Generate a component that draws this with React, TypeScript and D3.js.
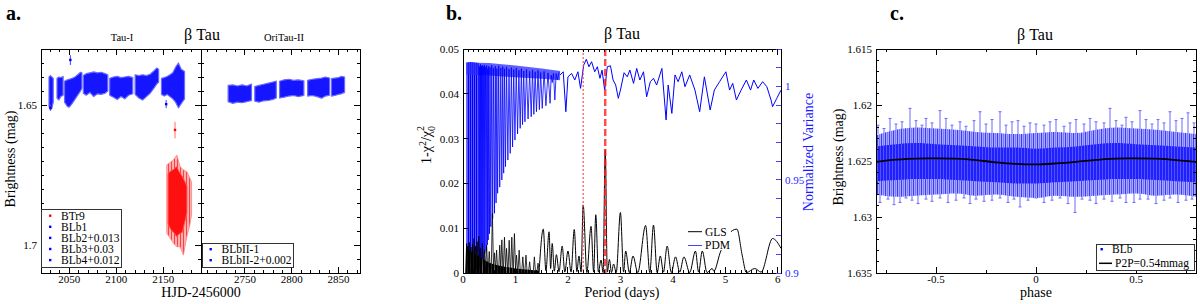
import * as d3 from "d3";

type Env = [number, number, number][];
type Pt = [number, number];

const FONT = "'Liberation Serif', 'DejaVu Serif', serif";

// ---- a. light curves: cloud envelopes [HJD-2456000, top mag, bottom mag]
const tauSeg1: Env = [[2028.5, 1.64, 1.6505], [2030, 1.6395, 1.6518], [2031.5, 1.64, 1.6512], [2033, 1.6405, 1.649]];
const tauSeg2: Env = [[2037, 1.6405, 1.6475], [2039, 1.64, 1.6482], [2041, 1.6402, 1.647], [2043.5, 1.6398, 1.6465]];
const tauSeg3: Env = [[2045, 1.6415, 1.649], [2048, 1.641, 1.6505], [2050, 1.6408, 1.6508], [2053, 1.6405, 1.6495], [2056, 1.64, 1.648], [2059, 1.6392, 1.6465], [2062, 1.6383, 1.645], [2063.5, 1.6385, 1.644]];
const tauSeg4: Env = [[2065, 1.6395, 1.6458], [2068, 1.6388, 1.6465], [2072, 1.6385, 1.6455], [2076, 1.6382, 1.647], [2080, 1.6385, 1.646], [2084, 1.6383, 1.6462], [2088, 1.6388, 1.6458], [2091, 1.6392, 1.645]];
const tauSeg5: Env = [[2093, 1.6405, 1.6465], [2097, 1.64, 1.6472], [2101, 1.6398, 1.648], [2105, 1.6402, 1.647], [2109, 1.64, 1.6478], [2113, 1.6398, 1.6465], [2117.5, 1.6402, 1.646]];
const tauSeg6: Env = [[2120, 1.6392, 1.6462], [2124, 1.6395, 1.6475], [2128, 1.6392, 1.6482], [2132, 1.6395, 1.647], [2136, 1.639, 1.6458], [2140, 1.6378, 1.644], [2143, 1.6368, 1.6425], [2145, 1.6372, 1.6418]];
const tauSeg7: Env = [[2148, 1.6405, 1.6462], [2151, 1.6402, 1.6468], [2154, 1.6398, 1.6462], [2157, 1.6392, 1.647], [2160, 1.6385, 1.6478], [2163, 1.6365, 1.649], [2166, 1.635, 1.651], [2169, 1.6372, 1.6495], [2172.5, 1.638, 1.6478]];
const oriSeg1: Env = [[2732, 1.643, 1.6488], [2737, 1.6428, 1.6494], [2742, 1.6432, 1.649], [2747, 1.6428, 1.6492], [2752, 1.6432, 1.6488], [2757, 1.6425, 1.6484]];
const oriSeg2: Env = [[2760.5, 1.6434, 1.6486], [2765, 1.643, 1.649], [2770, 1.6426, 1.6485], [2775, 1.6422, 1.6484], [2780, 1.6418, 1.648], [2783.5, 1.6415, 1.6475]];
const oriSeg3: Env = [[2787, 1.6415, 1.6475], [2792, 1.641, 1.6472], [2797, 1.6408, 1.6468], [2802, 1.6412, 1.6466], [2807, 1.641, 1.647], [2813, 1.6414, 1.6466]];
const oriSeg4: Env = [[2817, 1.6412, 1.6468], [2822, 1.6408, 1.6466], [2827, 1.6406, 1.647], [2832, 1.6404, 1.6476], [2836, 1.64, 1.6468], [2840.5, 1.6404, 1.6465]];
const oriSeg5: Env = [[2842.5, 1.6406, 1.6468], [2846, 1.6404, 1.6466], [2850, 1.6402, 1.6462], [2853, 1.6398, 1.646], [2856.5, 1.64, 1.6455]];
const redOuter: Env = [[2153.6, 1.6714, 1.6958], [2157.2, 1.6705, 1.6975], [2160.7, 1.6696, 1.6994], [2164.3, 1.6679, 1.7006], [2167.8, 1.672, 1.7006], [2171.3, 1.6732, 1.7036], [2174.9, 1.6738, 1.697], [2178, 1.676, 1.693], [2180, 1.6774, 1.6893]];
const redCore: Env = [[2155, 1.6745, 1.6925], [2158, 1.6735, 1.6945], [2161, 1.673, 1.6955], [2164, 1.672, 1.697], [2167, 1.674, 1.696], [2170, 1.6755, 1.6955], [2173, 1.6775, 1.6915], [2175, 1.679, 1.6885]];
// single error bars [day, mag, top, bottom]
const blueOutliers: [number, number, number, number][] = [[2051.2, 1.6339, 1.6322, 1.6357], [2153, 1.6497, 1.6482, 1.6511], [2030, 1.651, 1.6498, 1.652]];
const redOutliers: [number, number, number, number][] = [[2162.4, 1.6589, 1.656, 1.6619]];

const tauClouds = [tauSeg1, tauSeg2, tauSeg3, tauSeg4, tauSeg5, tauSeg6, tauSeg7];
const oriClouds = [oriSeg1, oriSeg2, oriSeg3, oriSeg4, oriSeg5];
const tauTicks = [2050, 2100, 2150];
const oriTicks = [2750, 2800, 2850];
const magTicksA = [1.65, 1.7];
const legendTau = [
  { label: "BTr9", color: "#ff0000" },
  { label: "BLb1", color: "#0000ff" },
  { label: "BLb2+0.013", color: "#0000ff" },
  { label: "BLb3+0.03", color: "#0000ff" },
  { label: "BLb4+0.012", color: "#0000ff" },
];
const legendOri = ["BLbII-1", "BLbII-2+0.002"];

// ---- b. periodograms: period (days), GLS power, PDM normalized variance
const pdmBlock: Env = [[0.065, 1.0128, 0.9], [0.15, 1.013, 0.9], [0.3, 1.0125, 0.9]];
const pdmBand: Env = [[0.065, 1.0128, 1.0062], [0.5, 1.0125, 1.0058], [1.0, 1.0112, 1.0048], [1.5, 1.0095, 1.004], [1.85, 1.0082, 1.0032]];
const pdmComb: Pt[] = [
  [0.3, 1.0115], [0.31, 0.9], [0.318, 1.0105], [0.326, 0.9005], [0.334, 1.0118], [0.343, 0.901], [0.352, 1.0108], [0.36, 0.9034],
  [0.369, 1.0112], [0.378, 0.904], [0.388, 1.0106], [0.398, 0.907], [0.407, 1.0115], [0.416, 0.9105], [0.428, 1.0104], [0.44, 0.912],
  [0.452, 1.0112], [0.464, 0.915], [0.472, 1.0095], [0.48, 0.9177], [0.49, 1.0108], [0.505, 0.921], [0.516, 1.0102], [0.53, 0.9248],
  [0.548, 1.0112], [0.565, 0.929], [0.58, 1.0098], [0.6, 0.932], [0.615, 1.0108], [0.63, 0.9375], [0.645, 1.0095], [0.66, 0.9427],
  [0.68, 1.011], [0.7, 0.946], [0.72, 1.0098], [0.74, 0.9498], [0.757, 1.0105], [0.775, 0.9535], [0.792, 1.0094], [0.81, 0.957],
  [0.83, 1.0104], [0.855, 0.9605], [0.877, 1.0092], [0.9, 0.9641], [0.922, 1.01], [0.945, 0.9675], [0.967, 1.009], [0.99, 0.9712],
  [1.015, 1.0098], [1.04, 0.9745], [1.065, 1.0086], [1.09, 0.9775], [1.112, 1.0094], [1.135, 0.9795], [1.157, 1.0082], [1.18, 0.981],
  [1.21, 1.009], [1.24, 0.9825], [1.27, 1.008], [1.3, 0.9837], [1.325, 1.0088], [1.35, 0.985], [1.375, 1.0078], [1.4, 0.9864],
  [1.43, 1.0085], [1.455, 0.9875], [1.48, 1.0074], [1.51, 0.9882], [1.545, 1.008], [1.58, 0.9896], [1.62, 1.0072], [1.66, 0.9909],
  [1.68, 1.006], [1.7, 1.002], [1.725, 1.007], [1.75, 0.9927], [1.775, 1.0068], [1.8, 1.0035], [1.83, 1.0075],
];
const pdmTail: Pt[] = [
  [1.85, 1.0061], [1.91, 1.0078], [1.96, 0.9864], [2.0, 1.0051], [2.07, 1.0069], [2.13, 1.0034], [2.19, 1.0078], [2.24, 0.9989],
  [2.3, 1.0114], [2.35, 1.0145], [2.4, 1.0105], [2.45, 1.0132], [2.51, 1.0078], [2.56, 1.0105], [2.61, 1.0043], [2.65, 1.0087],
  [2.7, 0.998], [2.75, 1.0105], [2.81, 1.011], [2.86, 1.0034], [2.91, 1.0007], [2.96, 0.9936], [3.0, 0.998], [3.07, 1.0073],
  [3.13, 1.0051], [3.18, 1.0087], [3.25, 1.0016], [3.31, 1.0096], [3.37, 1.0034], [3.44, 1.0078], [3.5, 0.9944], [3.57, 1.0025],
  [3.63, 1.0043], [3.69, 1.0007], [3.79, 1.0096], [3.87, 0.982], [3.91, 1.0007], [3.98, 0.9855], [4.04, 1.0061], [4.1, 1.0025],
  [4.17, 1.0078], [4.23, 0.9998], [4.32, 1.0061], [4.42, 0.998], [4.51, 0.9864], [4.6, 1.0051], [4.71, 0.9873], [4.79, 0.998],
  [4.89, 1.0025], [5.01, 1.0078], [5.08, 0.998], [5.14, 1.0016], [5.21, 0.9927], [5.3, 0.998], [5.4, 1.0034], [5.48, 0.998],
  [5.54, 1.0034], [5.62, 0.9989], [5.71, 1.0025], [5.79, 0.9998], [5.87, 0.9927], [5.9, 0.9891], [5.98, 0.9936], [6.06, 0.998],
];
const glsBase: Pt[] = [
  [0.06, 0.0058], [0.1, 0.0052], [0.15, 0.0048], [0.2, 0.0046], [0.25, 0.0042], [0.3, 0.0038], [0.35, 0.0033], [0.4, 0.003],
  [0.45, 0.0026], [0.5, 0.0023], [0.6, 0.0019], [0.7, 0.0016], [0.8, 0.0014], [0.9, 0.0012], [1.0, 0.001], [1.2, 0.0008], [1.45, 0.0005],
];
const glsSpikes: Pt[] = [
  [0.07, 0.0066], [0.09, 0.006], [0.12, 0.0068], [0.15, 0.0058], [0.18, 0.0064], [0.21, 0.0077], [0.24, 0.006], [0.27, 0.007],
  [0.3, 0.0082], [0.33, 0.0056], [0.37, 0.0066], [0.41, 0.005], [0.45, 0.0062], [0.5, 0.0048], [0.56, 0.0133], [0.6, 0.0045],
  [0.64, 0.0051], [0.7, 0.0062], [0.74, 0.0074], [0.79, 0.008], [0.83, 0.0055], [0.88, 0.0073], [0.93, 0.008], [0.98, 0.0088],
  [1.02, 0.004], [1.07, 0.0051], [1.14, 0.0036], [1.2, 0.004], [1.27, 0.0025], [1.36, 0.0036], [1.43, 0.0022],
];
const glsPeaks: Pt[] = [
  [1.45, 0.0003], [1.53, 0.0098], [1.58, 0.0005], [1.64, 0.0092], [1.67, 0.001], [1.7, 0.0066], [1.74, 0.0004], [1.78, 0.0041],
  [1.83, 0.0003], [1.89, 0.006], [1.94, 0.0002], [2.0, 0.0049], [2.06, 0.0002], [2.12, 0.0097], [2.17, 0.0003], [2.21, 0.0038],
  [2.25, 0.0002], [2.29, 0.0152], [2.36, 0.0001], [2.44, 0.0104], [2.49, 0.0002], [2.53, 0.013], [2.58, 0.0002], [2.63, 0.0029],
  [2.67, 0.0001], [2.71, 0.0275], [2.75, 0.0002], [2.79, 0.003], [2.83, 0.0001], [2.87, 0.002], [2.92, 0.0001], [3.0, 0.0135],
  [3.06, 0.0002], [3.1, 0.0049], [3.17, 0.0001], [3.24, 0.0038], [3.33, 0.0001], [3.48, 0.0106], [3.56, 0.0001], [3.63, 0.0107],
  [3.7, 0.0001], [3.76, 0.0038], [3.82, 0.0002], [3.89, 0.006], [3.97, 0.0001], [4.05, 0.0036], [4.13, 0.0002], [4.21, 0.0036],
  [4.32, 0.0001], [4.43, 0.0049], [4.49, 0.0002], [4.56, 0.0049], [4.65, 0.0001], [4.75, 0.001], [4.78, 0.0004], [4.9, 0.0045],
  [5.05, 0.0085], [5.22, 0.0098], [5.32, 0.004], [5.4, 0.0001], [5.56, 0.001], [5.68, 0.0002], [5.9, 0.0077], [6.06, 0.0055],
];
const periodDotted = 2.29;
const periodDashed = 2.71;
const glsTicks = [0, 0.01, 0.02, 0.03, 0.04, 0.05];
const pdmTicks = [0.9, 0.95, 1];
const periodTicks = [0, 1, 2, 3, 4, 5, 6];

// ---- c. phase-folded curve
const phases = [-0.8, -0.7, -0.6, -0.5, -0.4, -0.3, -0.2, -0.1, 0, 0.1, 0.2, 0.3, 0.4, 0.5, 0.6, 0.7, 0.8];
const haloTop = [1.6227, 1.6222, 1.622, 1.6221, 1.6222, 1.6224, 1.6225, 1.6226, 1.6225, 1.6224, 1.6225, 1.6222, 1.622, 1.6221, 1.6222, 1.6224, 1.6226];
const coreTop = [1.6237, 1.6235, 1.6234, 1.6235, 1.6236, 1.6237, 1.6238, 1.6238, 1.6239, 1.6238, 1.6237, 1.6235, 1.6234, 1.6235, 1.6236, 1.6237, 1.6238];
const coreBottom = [1.6268, 1.6267, 1.6266, 1.6266, 1.6267, 1.6268, 1.6269, 1.627, 1.627, 1.6269, 1.6268, 1.6267, 1.6266, 1.6266, 1.6267, 1.6268, 1.6269];
const haloBottom = [1.628, 1.6282, 1.6281, 1.628, 1.6279, 1.6281, 1.628, 1.6282, 1.6283, 1.6281, 1.6282, 1.6281, 1.628, 1.6279, 1.6281, 1.628, 1.6282];
const p2p = [1.62508, 1.62488, 1.62478, 1.62477, 1.62479, 1.62492, 1.62512, 1.62526, 1.62531, 1.62522, 1.62508, 1.6249, 1.62478, 1.62477, 1.62479, 1.62492, 1.62508];
const spikesUp: Pt[] = [
  [-0.79, 1.6218], [-0.76, 1.6221], [-0.73, 1.6212], [-0.7, 1.6217], [-0.67, 1.6215], [-0.63, 1.6203], [-0.6, 1.6214], [-0.57, 1.6218],
  [-0.55, 1.6212], [-0.52, 1.6216], [-0.48, 1.6205], [-0.45, 1.6212], [-0.42, 1.6218], [-0.38, 1.6215], [-0.35, 1.6219], [-0.31, 1.6214],
  [-0.28, 1.6206], [-0.25, 1.6217], [-0.22, 1.6213], [-0.18, 1.6206], [-0.15, 1.6218], [-0.12, 1.6215], [-0.09, 1.6214], [-0.06, 1.6219],
  [-0.03, 1.6216], [0.0, 1.6217], [0.04, 1.6218], [0.07, 1.6215], [0.1, 1.6213], [0.14, 1.6219], [0.17, 1.6216], [0.2, 1.6213],
  [0.24, 1.6217], [0.27, 1.6212], [0.3, 1.6215], [0.34, 1.6216], [0.37, 1.6203], [0.4, 1.6214], [0.43, 1.6218], [0.45, 1.6211],
  [0.48, 1.6215], [0.52, 1.6205], [0.55, 1.6213], [0.58, 1.6217], [0.61, 1.6213], [0.64, 1.6216], [0.67, 1.6206], [0.7, 1.6214],
  [0.73, 1.6212], [0.76, 1.6207], [0.79, 1.6216],
];
const spikesDown: Pt[] = [
  [-0.78, 1.6287], [-0.74, 1.6284], [-0.71, 1.6289], [-0.68, 1.6287], [-0.65, 1.6283], [-0.62, 1.6285], [-0.59, 1.6288], [-0.55, 1.6284],
  [-0.52, 1.6286], [-0.48, 1.6283], [-0.44, 1.6287], [-0.4, 1.6285], [-0.36, 1.6283], [-0.33, 1.6288], [-0.3, 1.6284], [-0.26, 1.6286],
  [-0.22, 1.6285], [-0.18, 1.6283], [-0.14, 1.6287], [-0.11, 1.6284], [-0.08, 1.6291], [-0.04, 1.6285], [0.0, 1.6283], [0.04, 1.6287],
  [0.08, 1.6285], [0.12, 1.6283], [0.16, 1.6288], [0.195, 1.6296], [0.23, 1.6284], [0.27, 1.6285], [0.3, 1.6288], [0.34, 1.6284],
  [0.38, 1.6286], [0.42, 1.6283], [0.45, 1.6287], [0.49, 1.6287], [0.52, 1.6284], [0.56, 1.6284], [0.6, 1.6288], [0.64, 1.6285],
  [0.67, 1.6283], [0.71, 1.6287], [0.75, 1.6285], [0.78, 1.6284],
];
const phaseTicks = [-0.5, 0, 0.5];
const magTicksC = [1.615, 1.62, 1.625, 1.63, 1.635];

const fmt = (v: number) => String(+v.toFixed(3));
const steps = (a: number, b: number, s: number) => d3.range(0, Math.round((b - a) / s) + 1).map((i) => +(a + i * s).toFixed(4));

function envArea(x: d3.ScaleLinear<number, number>, y: d3.ScaleLinear<number, number>, curve: d3.CurveFactory = d3.curveLinear) {
  return d3
    .area<[number, number, number]>()
    .x((d) => x(d[0]))
    .y0((d) => y(d[2]))
    .y1((d) => y(d[1]))
    .curve(curve);
}

function VTicks({ y, values, x, dir, len, color = "#000" }: { y: (v: number) => number; values: number[]; x: number; dir: number; len: number; color?: string }) {
  return (
    <g stroke={color} shapeRendering="crispEdges">
      {values.map((v, i) => (
        <line key={i} x1={x} x2={x + dir * len} y1={y(v)} y2={y(v)} />
      ))}
    </g>
  );
}

function HTicks({ x, values, y, dir, len, color = "#000" }: { x: (v: number) => number; values: number[]; y: number; dir: number; len: number; color?: string }) {
  return (
    <g stroke={color} shapeRendering="crispEdges">
      {values.map((v, i) => (
        <line key={i} x1={x(v)} x2={x(v)} y1={y} y2={y + dir * len} />
      ))}
    </g>
  );
}

export default function App() {
  // panel a
  const xA1 = d3.scaleLinear().domain([2020, 2190]).range([41, 201]);
  const xA2 = d3.scaleLinear().domain([2703, 2873]).range([201, 360]);
  const yA = d3.scaleLinear().domain([1.63, 1.71]).range([49, 273]);
  const areaA1 = envArea(xA1, yA);
  const areaA2 = envArea(xA2, yA);
  const magMinorA = steps(1.63, 1.71, 0.005);

  // panel b
  const xB = d3.scaleLinear().domain([0, 6.06]).range([463, 781]);
  const yBL = d3.scaleLinear().domain([0, 0.05]).range([273, 49]);
  const yBR = d3.scaleLinear().domain([0.9, 1.02]).range([273, 49]);
  const pdmLine = d3.line<Pt>().x((d) => xB(d[0])).y((d) => yBR(d[1]));
  const pdmArea = envArea(xB, yBR);
  const glsBaseArea = d3.area<Pt>().x((d) => xB(d[0])).y0(yBL(0)).y1((d) => yBL(d[1]));
  const glsLine = d3.line<Pt>().x((d) => xB(d[0])).y((d) => yBL(d[1])).curve(d3.curveMonotoneX);

  // panel c
  const xC = d3.scaleLinear().domain([-0.8, 0.8]).range([876, 1196]);
  const yC = d3.scaleLinear().domain([1.615, 1.635]).range([49, 273]);
  const areaC = envArea(xC, yC, d3.curveMonotoneX);
  const halo: Env = phases.map((p, i) => [p, haloTop[i], haloBottom[i]]);
  const core: Env = phases.map((p, i) => [p, coreTop[i], coreBottom[i]]);
  const p2pLine = d3.line<number>().x((_, i) => xC(phases[i])).y((d) => yC(d)).curve(d3.curveMonotoneX);

  const tick = { fontSize: 11, fontFamily: FONT };
  const title = { fontSize: 14, fontFamily: FONT };

  return (
    <svg width={1200} height={304} style={{ position: "absolute", left: 0, top: 0, background: "#fff" }} fontFamily={FONT}>
      <defs>
        <pattern id="pRedHalo" width="3" height="4" patternUnits="userSpaceOnUse">
          <rect width="3" height="4" fill="#ffb0b0" />
          <rect width="1" height="4" fill="#ff4040" />
        </pattern>
        <pattern id="pHaloC" width="4" height="6" patternUnits="userSpaceOnUse">
          <rect width="4" height="6" fill="#a8a8ff" />
          <rect x="1" width="1" height="6" fill="#3a3aff" />
          <rect x="3" width="1" height="6" fill="#7676ff" />
        </pattern>
        <pattern id="pCoreC" width="3" height="5" patternUnits="userSpaceOnUse">
          <rect width="3" height="5" fill="#2020ff" />
          <rect x="1" width="1" height="5" fill="#5252ff" />
        </pattern>
        <pattern id="pPdm" width="2" height="4" patternUnits="userSpaceOnUse">
          <rect width="2" height="4" fill="#5a5aff" />
          <rect width="1" height="4" fill="#0000ff" />
        </pattern>
        <pattern id="pGls" width="3" height="4" patternUnits="userSpaceOnUse">
          <rect width="3" height="4" fill="#000" />
          <rect x="2" width="1" height="4" fill="#666" />
        </pattern>
        <clipPath id="clipA1"><rect x={41} y={49} width={160} height={224} /></clipPath>
        <clipPath id="clipA2"><rect x={201} y={49} width={159} height={224} /></clipPath>
        <clipPath id="clipB"><rect x={463} y={49} width={318} height={224} /></clipPath>
        <clipPath id="clipC"><rect x={876} y={49} width={320} height={224} /></clipPath>
      </defs>

      {/* ================= panel a ================= */}
      <text x={6} y={20} fontSize={20} fontWeight="bold">a.</text>
      <text x={202} y={40} fontSize={16} textAnchor="middle">β Tau</text>
      <text x={122} y={41} fontSize={10.5} textAnchor="middle">Tau-I</text>
      <text x={284} y={41} fontSize={10.5} textAnchor="middle">OriTau-II</text>

      <g clipPath="url(#clipA1)">
        {tauClouds.map((seg, i) => (
          <path key={i} d={areaA1(seg) ?? ""} fill="#1515ff" stroke="#6a6aff" strokeWidth={1.2} strokeLinejoin="round" />
        ))}
        <path d={areaA1(redOuter) ?? ""} fill="url(#pRedHalo)" stroke="#ff8080" strokeWidth={0.8} />
        <path d={areaA1(redCore) ?? ""} fill="#ff1010" stroke="#ff5050" strokeWidth={1} />
        {blueOutliers.map((d, i) => (
          <g key={i} stroke="#4040ff">
            <line x1={xA1(d[0])} x2={xA1(d[0])} y1={yA(d[2])} y2={yA(d[3])} />
            <rect x={xA1(d[0]) - 1.2} y={yA(d[1]) - 1.2} width={2.4} height={2.4} fill="#0000ff" stroke="none" />
          </g>
        ))}
        {redOutliers.map((d, i) => (
          <g key={i} stroke="#ff7070">
            <line x1={xA1(d[0])} x2={xA1(d[0])} y1={yA(d[2])} y2={yA(d[3])} />
            <rect x={xA1(d[0]) - 1.2} y={yA(d[1]) - 1.2} width={2.4} height={2.4} fill="#ff0000" stroke="none" />
          </g>
        ))}
      </g>
      <g clipPath="url(#clipA2)">
        {oriClouds.map((seg, i) => (
          <path key={i} d={areaA2(seg) ?? ""} fill="#1515ff" stroke="#6a6aff" strokeWidth={1.2} strokeLinejoin="round" />
        ))}
      </g>

      <rect x={41} y={49} width={319} height={224} fill="none" stroke="#000" shapeRendering="crispEdges" />
      <line x1={201} x2={201} y1={49} y2={273} stroke="#000" shapeRendering="crispEdges" />
      <VTicks y={yA} values={magMinorA} x={41} dir={1} len={3} />
      <VTicks y={yA} values={magTicksA} x={41} dir={1} len={6} />
      <VTicks y={yA} values={magMinorA} x={201} dir={-1} len={3} />
      <VTicks y={yA} values={magTicksA} x={201} dir={-1} len={6} />
      <VTicks y={yA} values={magMinorA} x={201} dir={1} len={3} />
      <VTicks y={yA} values={magTicksA} x={201} dir={1} len={6} />
      <VTicks y={yA} values={magMinorA} x={360} dir={-1} len={3} />
      <VTicks y={yA} values={magTicksA} x={360} dir={-1} len={6} />
      <HTicks x={xA1} values={d3.range(2030, 2191, 10)} y={49} dir={1} len={3} />
      <HTicks x={xA1} values={tauTicks} y={49} dir={1} len={6} />
      <HTicks x={xA1} values={d3.range(2030, 2191, 10)} y={273} dir={-1} len={3} />
      <HTicks x={xA1} values={tauTicks} y={273} dir={-1} len={6} />
      <HTicks x={xA2} values={d3.range(2710, 2873, 10)} y={49} dir={1} len={3} />
      <HTicks x={xA2} values={oriTicks} y={49} dir={1} len={6} />
      <HTicks x={xA2} values={d3.range(2710, 2873, 10)} y={273} dir={-1} len={3} />
      <HTicks x={xA2} values={oriTicks} y={273} dir={-1} len={6} />
      {magTicksA.map((v) => (
        <text key={v} x={37} y={yA(v) + 4} textAnchor="end" {...tick}>{fmt(v)}</text>
      ))}
      {tauTicks.map((v) => (
        <text key={v} x={xA1(v)} y={283} textAnchor="middle" {...tick}>{v}</text>
      ))}
      {oriTicks.map((v) => (
        <text key={v} x={xA2(v)} y={283} textAnchor="middle" {...tick}>{v}</text>
      ))}
      <text x={201} y={297} textAnchor="middle" {...title}>HJD-2456000</text>
      <text transform="translate(15,159) rotate(-90)" textAnchor="middle" {...title}>Brightness (mag)</text>

      <rect x={41} y={209} width={80} height={58} fill="#fff" stroke="#333" shapeRendering="crispEdges" />
      {legendTau.map((d, i) => (
        <g key={d.label}>
          <rect x={49} y={214.5 + i * 11.1} width={2.4} height={2.4} fill={d.color} />
          <text x={61} y={219.7 + i * 11.1} fontSize={11.5}>{d.label}</text>
        </g>
      ))}
      <rect x={202} y={243} width={91} height={24} fill="#fff" stroke="#333" shapeRendering="crispEdges" />
      {legendOri.map((d, i) => (
        <g key={d}>
          <rect x={209.5} y={248 + i * 11} width={2.4} height={2.4} fill="#0000ff" />
          <text x={221.5} y={253.3 + i * 11} fontSize={11.5}>{d}</text>
        </g>
      ))}

      {/* ================= panel b ================= */}
      <text x={446} y={20} fontSize={20} fontWeight="bold">b.</text>
      <text x={622} y={39} fontSize={16} textAnchor="middle">β Tau</text>
      <g clipPath="url(#clipB)">
        <path d={pdmArea(pdmBlock) ?? ""} fill="url(#pPdm)" />
        <path d={pdmArea(pdmBand) ?? ""} fill="#2a2aff" opacity={0.75} />
        <path d={pdmLine(pdmComb) ?? ""} fill="none" stroke="#0000ff" strokeWidth={0.8} />
        <path d={pdmLine(pdmTail) ?? ""} fill="none" stroke="#0000ff" strokeWidth={1} />
        <path d={glsBaseArea(glsBase) ?? ""} fill="url(#pGls)" />
        {glsSpikes.map((d, i) => (
          <path
            key={i}
            d={`M${xB(d[0]) - 1.2},${yBL(0)}L${xB(d[0])},${yBL(d[1])}L${xB(d[0]) + 1.2},${yBL(0)}`}
            fill="none"
            stroke="#000"
            strokeWidth={0.8}
          />
        ))}
        <path d={glsLine(glsPeaks) ?? ""} fill="none" stroke="#000" strokeWidth={1} />
        <line x1={xB(periodDotted)} x2={xB(periodDotted)} y1={49} y2={273} stroke="#ff5050" strokeWidth={1.2} strokeDasharray="2,2" />
        <line x1={xB(periodDashed)} x2={xB(periodDashed)} y1={49} y2={273} stroke="#ff2020" strokeWidth={2.5} strokeDasharray="7,3" opacity={0.8} />
      </g>
      <rect x={686} y={224} width={45} height={26} fill="#fff" />
      <line x1={688} x2={702} y1={231.7} y2={231.7} stroke="#000" />
      <text x={705} y={235.5} fontSize={11.5}>GLS</text>
      <line x1={688} x2={702} y1={245.5} y2={245.5} stroke="#4444ff" />
      <text x={705} y={249} fontSize={11.5}>PDM</text>

      <rect x={463} y={49} width={318} height={224} fill="none" stroke="#000" shapeRendering="crispEdges" />
      <VTicks y={yBL} values={glsTicks} x={463} dir={1} len={6} />
      <VTicks y={yBR} values={steps(0.9, 1.02, 0.01)} x={781} dir={-1} len={5} color="#4444ff" />
      <HTicks x={xB} values={steps(0, 6, 0.1)} y={49} dir={1} len={3} />
      <HTicks x={xB} values={periodTicks} y={49} dir={1} len={6} />
      <HTicks x={xB} values={steps(0, 6, 0.1)} y={273} dir={-1} len={3} />
      <HTicks x={xB} values={periodTicks} y={273} dir={-1} len={6} />
      {glsTicks.map((v) => (
        <text key={v} x={459} y={yBL(v) + 4} textAnchor="end" {...tick}>{fmt(v)}</text>
      ))}
      {pdmTicks.map((v) => (
        <text key={v} x={785} y={yBR(v) + 4} fill="#2a2aff" {...tick}>{fmt(v)}</text>
      ))}
      {periodTicks.map((v) => (
        <text key={v} x={xB(v)} y={283} textAnchor="middle" {...tick}>{v}</text>
      ))}
      <text x={622} y={297} textAnchor="middle" {...title}>Period (days)</text>
      <text transform="translate(431,145) rotate(-90)" textAnchor="middle" {...title}>
        1-χ<tspan dy={-5} fontSize={10}>2</tspan>
        <tspan dy={5}>/χ</tspan>
        <tspan dy={4} fontSize={10}>0</tspan>
        <tspan dy={-11} dx={-5} fontSize={10}>2</tspan>
      </text>
      <text transform="translate(813,152) rotate(-90)" textAnchor="middle" fill="#1a1aff" {...title}>Normalized Variance</text>

      {/* ================= panel c ================= */}
      <text x={890} y={20} fontSize={20} fontWeight="bold">c.</text>
      <text x={1035} y={40} fontSize={16} textAnchor="middle">β Tau</text>
      <g clipPath="url(#clipC)">
        {spikesUp.map((d, i) => (
          <g key={i} stroke="#6a6aff">
            <line x1={xC(d[0])} x2={xC(d[0])} y1={yC(d[1])} y2={yC(1.6226)} />
            <line x1={xC(d[0]) - 1.5} x2={xC(d[0]) + 1.5} y1={yC(d[1])} y2={yC(d[1])} />
          </g>
        ))}
        {spikesDown.map((d, i) => (
          <g key={i} stroke="#6a6aff">
            <line x1={xC(d[0])} x2={xC(d[0])} y1={yC(1.6278)} y2={yC(d[1])} />
            <line x1={xC(d[0]) - 1.5} x2={xC(d[0]) + 1.5} y1={yC(d[1])} y2={yC(d[1])} />
          </g>
        ))}
        <path d={areaC(halo) ?? ""} fill="url(#pHaloC)" />
        <path d={areaC(core) ?? ""} fill="url(#pCoreC)" />
        <path d={p2pLine(p2p) ?? ""} fill="none" stroke="#000" strokeWidth={1.8} />
      </g>
      <rect x={876} y={49} width={320} height={224} fill="none" stroke="#000" shapeRendering="crispEdges" />
      <VTicks y={yC} values={steps(1.615, 1.635, 0.001)} x={876} dir={1} len={3} />
      <VTicks y={yC} values={magTicksC} x={876} dir={1} len={6} />
      <VTicks y={yC} values={steps(1.615, 1.635, 0.001)} x={1196} dir={-1} len={3} />
      <VTicks y={yC} values={magTicksC} x={1196} dir={-1} len={6} />
      <HTicks x={xC} values={[-0.75, -0.25, 0.25, 0.75]} y={49} dir={1} len={3} />
      <HTicks x={xC} values={phaseTicks} y={49} dir={1} len={6} />
      <HTicks x={xC} values={[-0.75, -0.25, 0.25, 0.75]} y={273} dir={-1} len={3} />
      <HTicks x={xC} values={phaseTicks} y={273} dir={-1} len={6} />
      {magTicksC.map((v) => (
        <text key={v} x={872} y={yC(v) + 4} textAnchor="end" {...tick}>{fmt(v)}</text>
      ))}
      {phaseTicks.map((v) => (
        <text key={v} x={xC(v)} y={283} textAnchor="middle" {...tick}>{fmt(v)}</text>
      ))}
      <text x={1036} y={297} textAnchor="middle" {...title}>phase</text>
      <text transform="translate(843,157) rotate(-90)" textAnchor="middle" {...title}>Brightness (mag)</text>

      <rect x={1096} y={244} width={98} height={26} fill="#fff" stroke="#333" shapeRendering="crispEdges" />
      <rect x={1100.5} y={248} width={2.4} height={2.4} fill="#0000ff" />
      <text x={1112} y={253.3} fontSize={11.5}>BLb</text>
      <line x1={1099} x2={1112} y1={263.3} y2={263.3} stroke="#000" strokeWidth={1.5} />
      <text x={1115} y={267} fontSize={11.5}>P2P=0.54mmag</text>
    </svg>
  );
}
